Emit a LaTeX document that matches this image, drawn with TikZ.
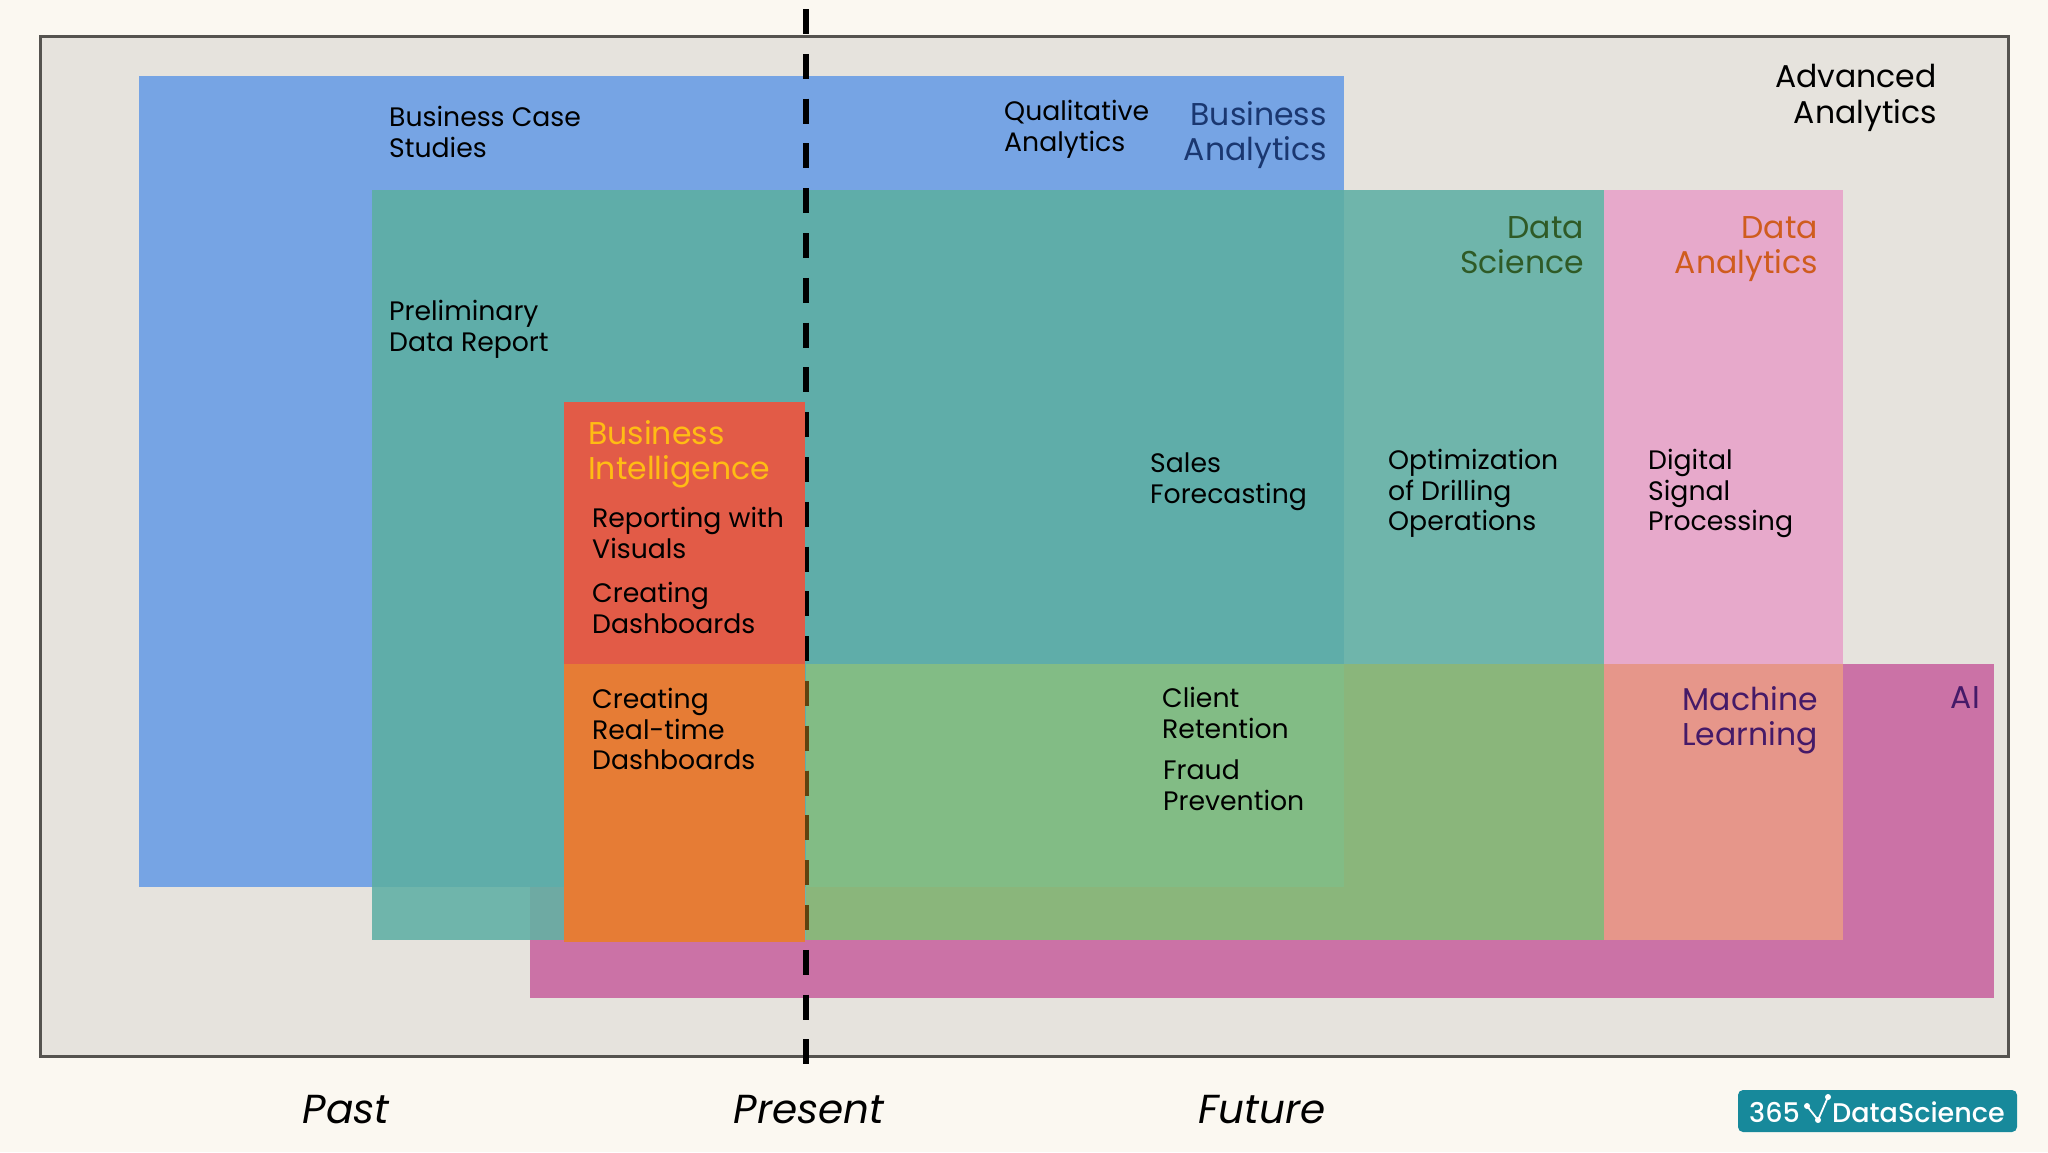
\documentclass[tikz,border=0pt]{standalone}
\usepackage{fontspec}
\setmainfont{Poppins}
\newfontfamily\logofont{Poppins Medium}
\definecolor{paper}{HTML}{FBF8F1}
\definecolor{panel}{HTML}{E6E3DD}
\definecolor{panelline}{HTML}{55534F}
\definecolor{aicol}{HTML}{CB72A6}
\definecolor{bacol}{HTML}{76A4E4}
\definecolor{dscol}{HTML}{6FB5AB}
\definecolor{badscol}{HTML}{5FADA9}
\definecolor{aidscol}{HTML}{6EAAA3}
\definecolor{mldscol}{HTML}{8AB67B}
\definecolor{mlbacol}{HTML}{82BC85}
\definecolor{dacol}{HTML}{E7A9CB}
\definecolor{mldacol}{HTML}{E6968A}
\definecolor{bicol}{HTML}{E25B47}
\definecolor{biaicol}{HTML}{E67C35}
\definecolor{logocol}{HTML}{17899B}
\definecolor{dashcol}{HTML}{5E4210}
\definecolor{batext}{HTML}{1A3770}
\definecolor{dstext}{HTML}{2F5A26}
\definecolor{datext}{HTML}{CF5C1E}
\definecolor{bitext}{HTML}{FFBC14}
\definecolor{mltext}{HTML}{451A68}
\tikzset{
  item/.style={inner sep=0pt, anchor=north west, align=left, text=black, font=\fontsize{26.7}{30.7}\selectfont},
  field/.style={inner sep=0pt, anchor=north east, align=right, font=\fontsize{31.5}{35.5}\selectfont},
  when/.style={inner sep=0pt, anchor=center, text=black, font=\fontsize{40.5}{42}\selectfont\itshape},
  logotext/.style={inner sep=0pt, anchor=west, text=white, font=\logofont\fontsize{27}{30}\selectfont},
  presentline/.style={line width=6.6pt, dash pattern=on 25pt off 19.8pt}
}
\begin{document}
\begin{tikzpicture}[x=1pt, y=-1pt]
    \useasboundingbox (0, 0) rectangle (2048, 1152);
    \fill [paper] (0, 0) rectangle (2048, 1152);
    \draw [panelline, line width=3pt, fill=panel] (40, 36) rectangle (2008, 1056);

    \fill [aicol] (530, 664) rectangle (1994, 998);
    \fill [bacol] (139, 76) rectangle (1344, 887);
    \fill [dscol] (372, 190) rectangle (1604, 940);
    \fill [badscol] (372, 190) rectangle (1344, 887);
    \fill [aidscol] (530, 887) rectangle (564, 940);
    \fill [mldscol] (806, 664) rectangle (1604, 940);
    \fill [mlbacol] (806, 664) rectangle (1344, 887);
    \fill [dacol] (1604, 190) rectangle (1843, 664);
    \fill [mldacol] (1604, 664) rectangle (1843, 940);

    \coordinate (linetop) at (806, 9);
    \coordinate (linebot) at (806, 1064);
    \draw [presentline, black] (linetop) -- (linebot);
    \begin{scope}
        \clip (790, 664) rectangle (820, 942);
        \draw [presentline, dashcol] (linetop) -- (linebot);
    \end{scope}
    \fill [bicol] (564, 402) rectangle (805, 664);
    \fill [biaicol] (564, 664) rectangle (805, 942);

    \node [field, text=black] (advanced) at (1937, 64) {Advanced\\Analytics};
    \node [field, text=batext] (business) at (1327, 101) {Business\\Analytics};
    \node [field, text=dstext] (science) at (1584, 216) {Data\\Science};
    \node [field, text=datext] (analytics) at (1818, 216) {Data\\Analytics};
    \node [field, text=mltext] (machine) at (1818, 686) {Machine\\Learning};
    \node [field, text=mltext] (ai) at (1980, 686) {AI};
    \node [field, anchor=north west, align=left, text=bitext] (intelligence) at (588, 420) {Business\\Intelligence};

    \node [item] (casestudies) at (389, 106) {Business Case\\Studies};
    \node [item] (qualitative) at (1004, 100) {Qualitative\\Analytics};
    \node [item] (preliminary) at (389, 300) {Preliminary\\Data Report};
    \node [item] (reporting) at (592, 507) {Reporting with\\Visuals};
    \node [item] (creating) at (592, 582) {Creating\\Dashboards};
    \node [item] (realtime) at (592, 688) {Creating\\Real-time\\Dashboards};
    \node [item] (sales) at (1150, 453) {Sales\\Forecasting};
    \node [item] (drilling) at (1388, 449) {Optimization\\of Drilling\\Operations};
    \node [item] (signal) at (1648, 449) {Digital\\Signal\\Processing};
    \node [item] (retention) at (1162, 687) {Client\\Retention};
    \node [item] (fraud) at (1163, 760) {Fraud\\Prevention};

    \node [when] (past) at (346, 1110) {Past};
    \node [when] (present) at (809, 1110) {Present};
    \node [when] (future) at (1262, 1110) {Future};

    \node [fill=logocol, rounded corners=5pt, minimum width=279pt, minimum height=42pt, inner sep=0pt] (logobox) at (1877.5, 1111) {};
    \node [logotext] (logoyears) at (1749, 1112) {365};
    \node [logotext] (logoname) at (1832, 1112) {DataScience};
    \coordinate (rootleft) at (1807, 1106);
    \coordinate (rootlow) at (1818, 1120);
    \coordinate (roottop) at (1828, 1097);
    \draw [white, line width=1.8pt] (rootleft) -- (rootlow) -- (roottop);
    \foreach \p in {rootleft, rootlow, roottop}
        \fill [white] (\p) circle (3pt);
\end{tikzpicture}
\end{document}
